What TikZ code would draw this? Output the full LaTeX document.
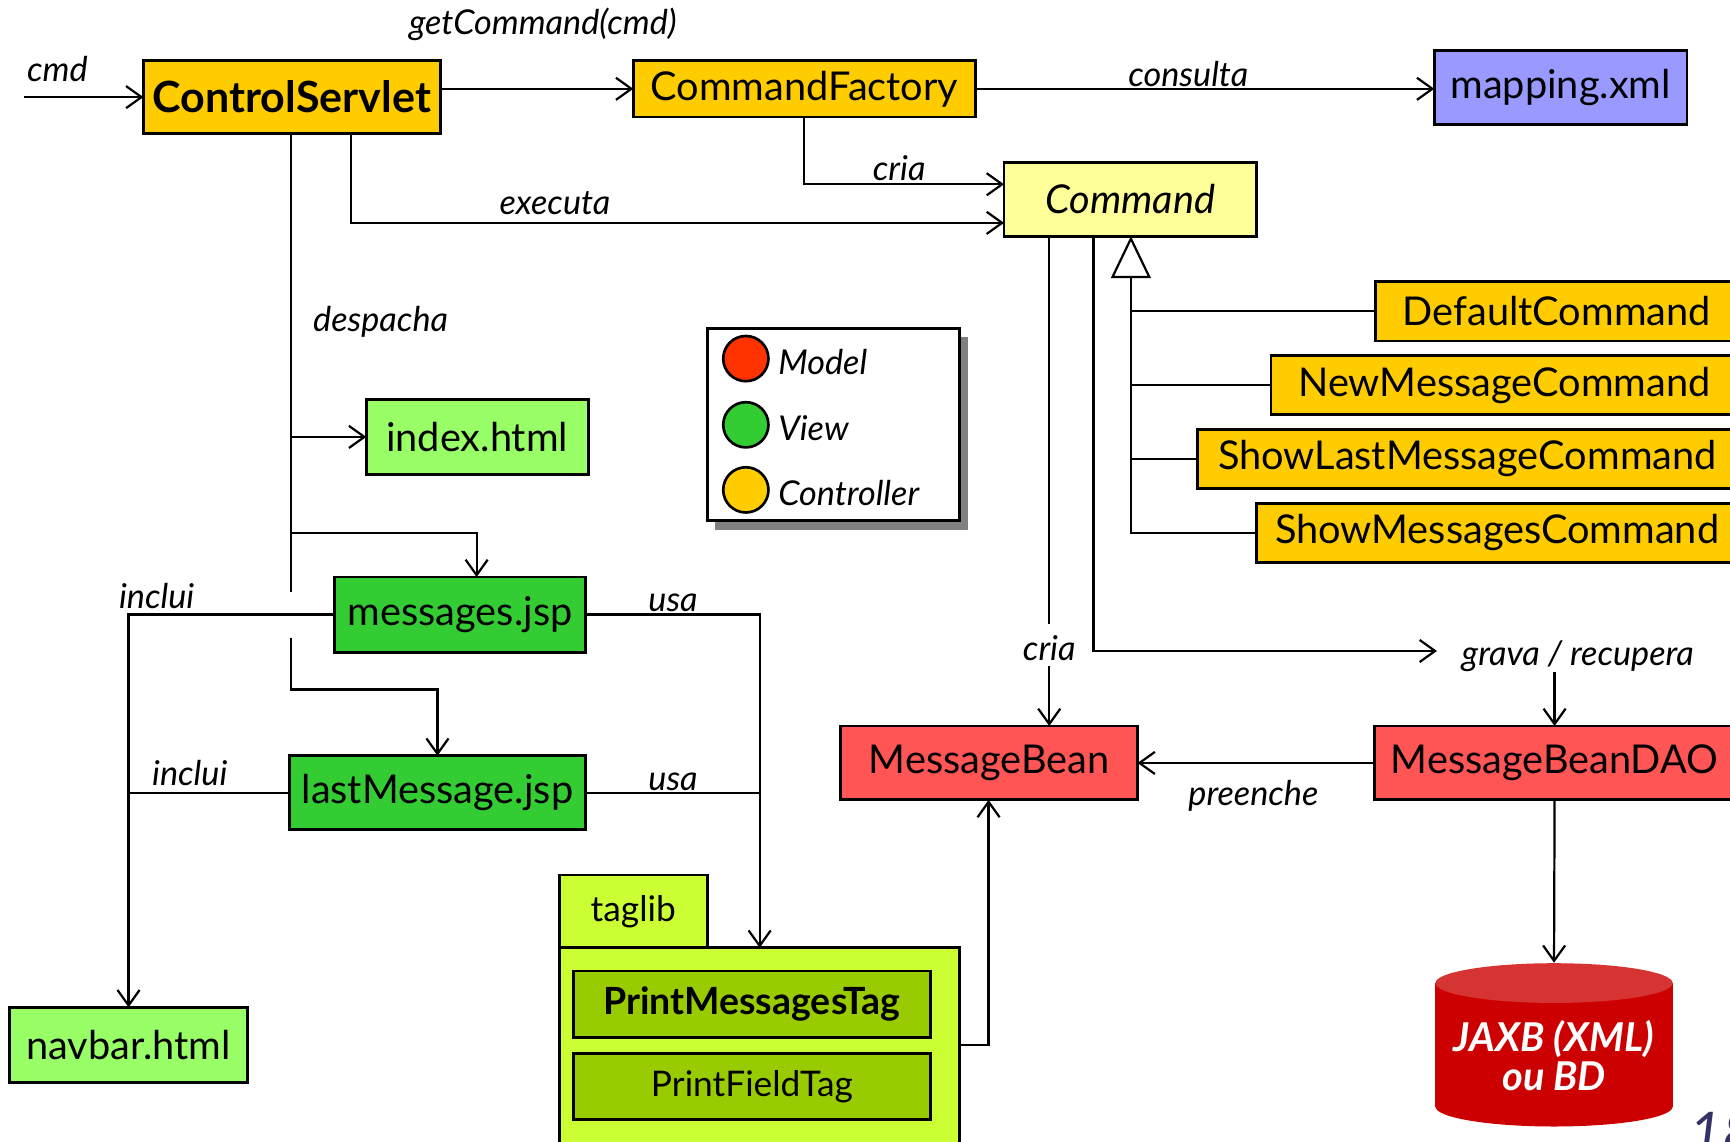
\documentclass[tikz,border=0pt]{standalone}
\usepackage{fontspec}
\setmainfont{Lato}
\usetikzlibrary{arrows.meta}
\definecolor{ctrl}{HTML}{FFCC00}
\definecolor{mapc}{HTML}{9999FF}
\definecolor{cmdc}{HTML}{FFFF99}
\definecolor{lgreen}{HTML}{99FF66}
\definecolor{dgreen}{HTML}{33CC33}
\definecolor{tagc}{HTML}{CCFF33}
\definecolor{tagi}{HTML}{99CC00}
\definecolor{modc}{HTML}{FF5555}
\definecolor{modelc}{HTML}{FF3300}
\definecolor{dbc}{HTML}{CC0000}
\definecolor{dbtop}{HTML}{D63333}
\definecolor{shadowc}{HTML}{808080}
\definecolor{pagec}{HTML}{333366}
\tikzset{
  box/.style={draw=black, line width=1.3pt, inner sep=0pt, outer sep=0pt, font=\fontsize{18}{21}\selectfont},
  boldtxt/.style={font=\fontsize{19.5}{22}\selectfont\bfseries},
  itxt/.style={font=\fontsize{18}{21}\selectfont\itshape},
  tagtxt/.style={font=\fontsize{16}{19}\selectfont},
  tagbold/.style={font=\fontsize{17}{20}\selectfont\bfseries},
  conn/.style={line width=1pt},
  arr/.style={conn, -{Straight Barb[length=7pt,width=10pt,line width=1pt]}},
  lbl/.style={font=\fontsize{15.5}{18}\selectfont\itshape, inner sep=0pt},
  circ/.style={circle, draw=black, line width=1.2pt, minimum size=20.5pt, inner sep=0pt},
}
\newcommand\bx[7]{\node[box,#6,minimum width={(#4-#2)*0.5pt},minimum height={(#5-#3)*0.5pt}] (#1) at ({(#2+#4)/2},{(#3+#5)/2}) {#7};}
\begin{document}
\begin{tikzpicture}[x=0.5pt,y=-0.5pt]
\useasboundingbox (0,0) rectangle (1568,1035);
\clip (0,0) rectangle (1568,1035);

% ---------- nodes ----------
\bx{cs}{130}{55}{399}{121}{fill=ctrl,boldtxt}{ControlServlet}
\bx{cf}{574}{55}{884}{106}{fill=ctrl}{CommandFactory}
\bx{map}{1300}{46}{1529}{113}{fill=mapc}{mapping.xml}
\bx{cmd}{910}{147}{1139}{214}{fill=cmdc,itxt}{Command}
\bx{dc}{1247}{255}{1575}{309}{fill=ctrl}{DefaultCommand}
\bx{nmc}{1152}{322}{1575}{376}{fill=ctrl}{NewMessageCommand}
\bx{slmc}{1085}{389}{1575}{443}{fill=ctrl}{ShowLastMessageCommand}
\bx{smc}{1139}{456}{1575}{510}{fill=ctrl}{ShowMessagesCommand}
\bx{idx}{332}{362}{533}{430}{fill=lgreen}{index.html}
\bx{msg}{303}{523}{531}{591}{fill=dgreen}{messages.jsp}
\bx{lm}{262}{685}{531}{752}{fill=dgreen}{lastMessage.jsp}
\bx{nav}{9}{913}{224}{981}{fill=lgreen}{navbar.html}
\bx{tab}{507}{793}{641}{859}{fill=tagc,tagtxt}{taglib}
\bx{tlb}{507}{859}{870}{1045}{fill=tagc}{}
\bx{pmt}{520}{880}{843}{940}{fill=tagi,tagbold}{PrintMessagesTag}
\bx{pft}{520}{955}{843}{1015}{fill=tagi,tagtxt}{PrintFieldTag}
\bx{mb}{762}{658}{1031}{725}{fill=modc}{MessageBean}
\bx{dao}{1246}{658}{1572}{725}{fill=modc}{MessageBeanDAO}

% legend
\fill[shadowc] (648,305) rectangle (877,480);
\bx{leg}{641}{298}{870}{472}{fill=white}{}
\node[circ,fill=modelc] (lgm) at (676,325) {};
\node[circ,fill=dgreen] (lgv) at (676,385) {};
\node[circ,fill=ctrl] (lgc) at (676,444) {};
\node[lbl,anchor=west] (lgmt) at (705,328) {Model};
\node[lbl,anchor=west] (lgvt) at (705,388) {View};
\node[lbl,anchor=west] (lgct) at (705,447) {Controller};

% database cylinder
\fill[dbc] (1301,891) rectangle (1516,1003);
\fill[dbc] (1408.5,1003) ellipse [x radius=107.5, y radius=18];
\fill[dbtop] (1408.5,891) ellipse [x radius=107.5, y radius=18];
\node[font=\fontsize{18}{17.5}\selectfont\bfseries\itshape, text=white, align=center,
      minimum width=107.5pt, minimum height=84pt, inner sep=0pt] (db) at (1408.5,957) {JAXB (XML)\\ou BD};

% page number
\node[font=\fontsize{26}{26}\selectfont\itshape, text=pagec, anchor=north west, inner sep=0pt] (pg) at (1531,1007) {18};

% ---------- connectors ----------
\coordinate (in) at (22,88);
\draw[arr] (in) -- (cs.west);
\node[lbl] (lcmd) at (52,63) {cmd};

\draw[arr] (cs.east |- cf.west) -- (cf.west);
\node[lbl] (lgetc) at (492,22) {getCommand(cmd)};

\draw[arr] (cf.east) -- (cf.east -| map.west);
\node[lbl] (lcons) at (1077,67) {consulta};

\coordinate (xC) at (729,167);
\draw[arr] (cf.south -| xC) -- (xC) -- (xC -| cmd.west);
\node[lbl] (lcria1) at (815,152) {cria};

\coordinate (xB) at (318,202);
\draw[arr] (cs.south -| xB) -- (xB) -- (xB -| cmd.west);
\node[lbl] (lexec) at (503,184) {executa};

% despacha spine
\coordinate (sA) at (264,537);
\coordinate (sB) at (264,578);
\coordinate (sC) at (264,625);
\coordinate (sE) at (264,483);
\coordinate (sF) at (432,483);
\draw[conn] (cs.south -| sA) -- (sA);
\draw[arr] (sA |- idx.west) -- (idx.west);
\draw[arr] (sE) -- (sF) -- (sF |- msg.north);
\draw[arr] (sB) -- (sC) -- (sC -| lm.north) -- (lm.north);
\node[lbl] (ldesp) at (345,292) {despacha};

% inclui
\draw[arr] (msg.west) -- (msg.west -| nav.north) -- (nav.north);
\draw[conn] (lm.west) -- (lm.west -| nav.north);
\node[lbl] (linc1) at (142,540) {inclui};
\node[lbl] (linc2) at (172,701) {inclui};

% usa
\draw[arr] (msg.east) -- (msg.east -| tlb.north) -- (tlb.north);
\draw[conn] (lm.east) -- (lm.east -| tlb.north);
\node[lbl] (lusa1) at (610,546) {usa};
\node[lbl] (lusa2) at (610,709) {usa};

% taglib -> MessageBean
\coordinate (tg) at (896,947);
\draw[arr] (tg -| tlb.east) -- (tg) -- (tg |- mb.south);

% Command -> MessageBean (cria)
\coordinate (xD) at (951,566);
\coordinate (xD2) at (951,604);
\draw[conn] (cmd.south -| xD) -- (xD);
\draw[arr] (xD2) -- (xD2 |- mb.north);
\node[lbl] (lcria2) at (951,587) {cria};

% Command -> grava / recupera -> DAO
\node[lbl] (lgr) at (1430,595) {grava / recupera};
\coordinate (xE) at (991,590);
\draw[arr] (cmd.south -| xE) -- (xE) -- ([xshift=-11pt]xE -| lgr.west);
\draw[arr] (lgr.south -| dao.north) -- (dao.north);

% preenche
\draw[arr] (dao.west) -- (dao.west -| mb.east);
\node[lbl] (lpre) at (1136,721) {preenche};

% DAO -> database
\draw[arr] (dao.south) -- (db.north);

% inheritance
\coordinate (xF) at (1025,483);
\draw[conn, {Triangle[open,length=19pt,width=18pt,line width=1pt]}-] (cmd.south -| xF) -- (xF) -- (xF -| smc.west);
\draw[conn] (xF |- dc.west) -- (dc.west);
\draw[conn] (xF |- nmc.west) -- (nmc.west);
\draw[conn] (xF |- slmc.west) -- (slmc.west);
\end{tikzpicture}
\end{document}
